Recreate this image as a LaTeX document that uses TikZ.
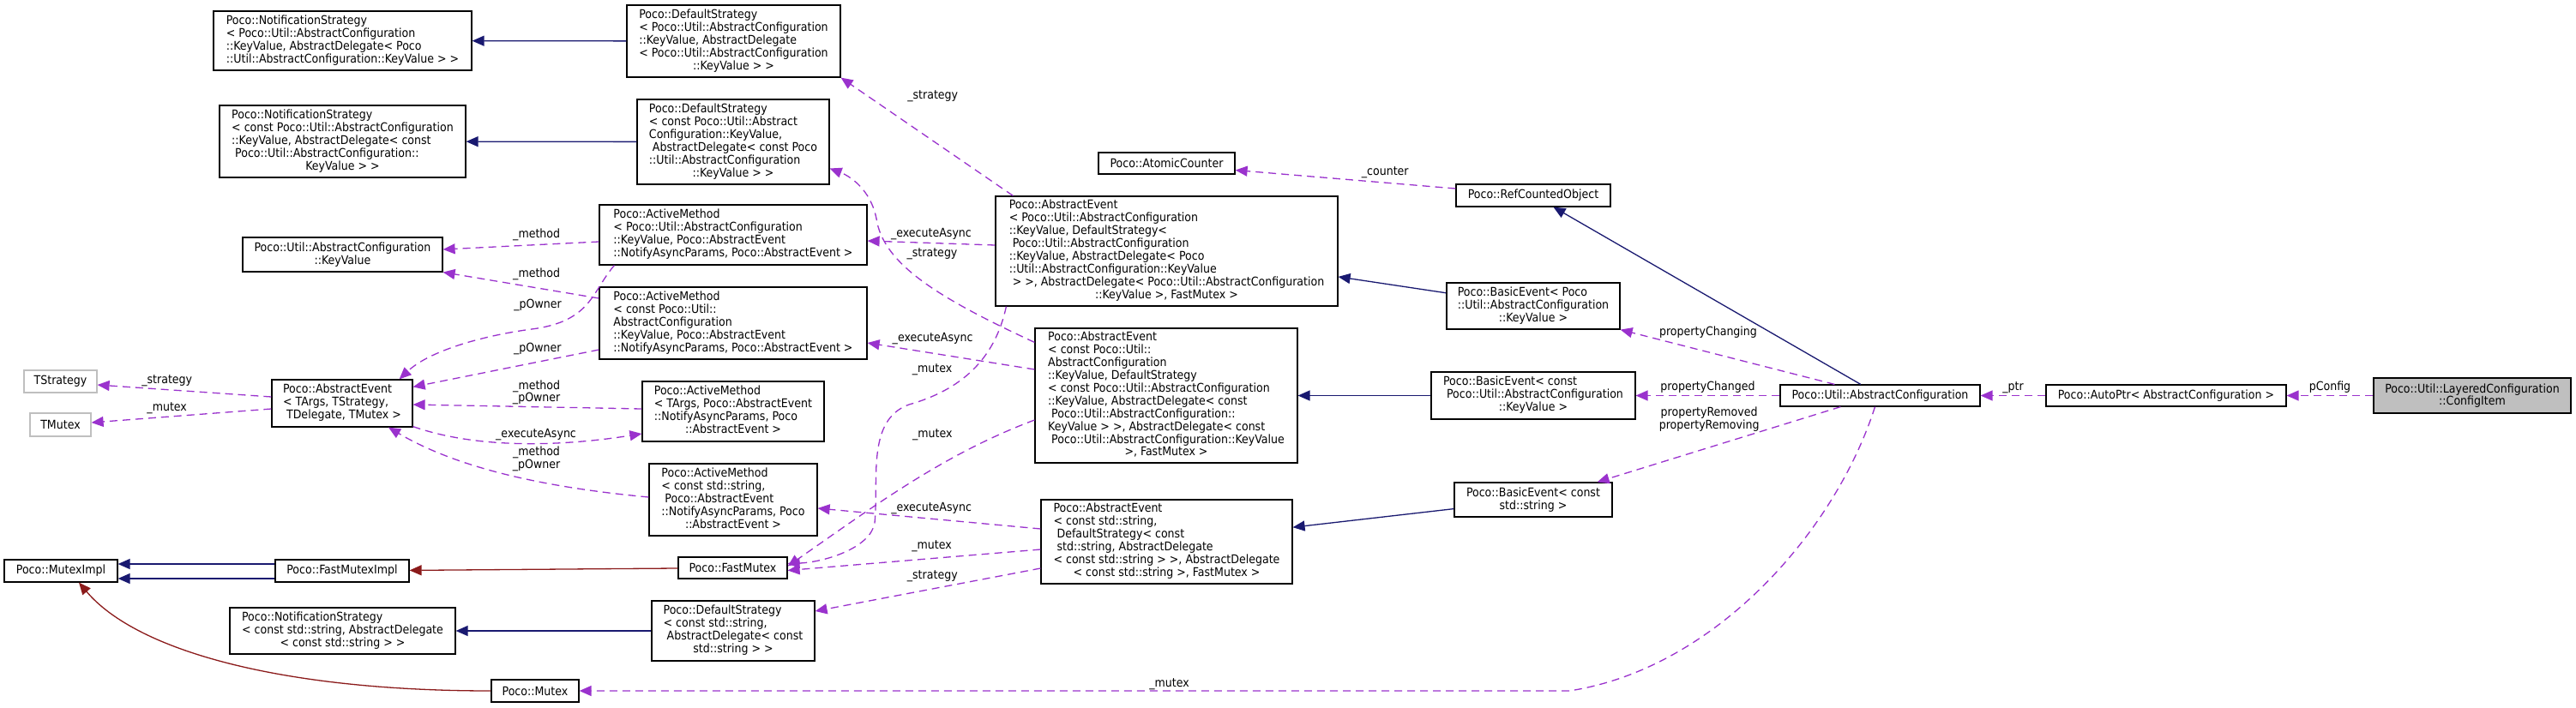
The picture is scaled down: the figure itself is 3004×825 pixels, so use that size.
\documentclass[tikz,border=0pt]{standalone}
\usepackage{fontspec}
\newfontfamily\dxfont{DejaVu Sans Condensed}
\usetikzlibrary{arrows.meta,positioning,calc}
\definecolor{myNavy}{RGB}{25,25,112}
\definecolor{myRed}{RGB}{139,26,26}
\definecolor{myPurple}{RGB}{154,50,205}
\definecolor{myGray}{RGB}{191,191,191}
\newcommand\dxsize{\dxfont\fontsize{14pt}{14.5pt}\selectfont}
\newcommand\lines[1]{\begin{tabular}{@{}l@{}}#1\end{tabular}}
\newcommand\ctr[1]{\multicolumn{1}{@{}c@{}}{#1}}

\begin{document}
\begin{tikzpicture}[x=1pt,y=-1pt,
      mybox/.style={
         draw=black,
         fill=white,
         line width=1.2pt,
         inner sep=0pt,
         font=\dxsize},
      mygraybox/.style={mybox,draw=myGray},
      myinherit/.style={myNavy,line width=1.3pt,-{Triangle[length=14pt,width=12pt]}},
      myowner/.style={myRed,line width=1.3pt,-{Triangle[length=14pt,width=12pt]}},
      myuse/.style={myPurple,line width=1.3pt,dash pattern=on 9pt off 6pt,
         -{Triangle[length=14pt,width=12pt]}},
      mylabel/.style={font=\dxsize,text=black,inner sep=0pt,align=center}
      ]
      \useasboundingbox (0,0) rectangle (3004,825);

      % classes, top to bottom, left to right
      \node[mybox,minimum width=301pt,minimum height=69pt] (nsKV) at (399.5,47.5)
         {\lines{Poco::NotificationStrategy\\< Poco::Util::AbstractConfiguration\\::KeyValue, AbstractDelegate< Poco\\::Util::AbstractConfiguration::KeyValue > >}};
      \node[mybox,minimum width=249pt,minimum height=84pt] (dsKV) at (855.5,48)
         {\lines{Poco::DefaultStrategy\\< Poco::Util::AbstractConfiguration\\::KeyValue, AbstractDelegate\\< Poco::Util::AbstractConfiguration\\\ctr{::KeyValue > >}}};
      \node[mybox,minimum width=287pt,minimum height=84pt] (nscKV) at (399.5,165)
         {\lines{Poco::NotificationStrategy\\< const Poco::Util::AbstractConfiguration\\::KeyValue, AbstractDelegate< const\\\ Poco::Util::AbstractConfiguration::\\\ctr{KeyValue > >}}};
      \node[mybox,minimum width=224pt,minimum height=99pt] (dscKV) at (855,165.5)
         {\lines{Poco::DefaultStrategy\\< const Poco::Util::Abstract\\Configuration::KeyValue,\\\ AbstractDelegate< const Poco\\::Util::AbstractConfiguration\\\ctr{::KeyValue > >}}};
      \node[mybox,minimum width=159pt,minimum height=25pt] (atomic) at (1360.5,190.5) {Poco::AtomicCounter};
      \node[mybox,minimum width=180pt,minimum height=26pt] (refc) at (1788,228) {Poco::RefCountedObject};
      \node[mybox,minimum width=233pt,minimum height=40pt,align=center] (kv) at (399.5,297)
         {Poco::Util::AbstractConfiguration\\::KeyValue};
      \node[mybox,minimum width=312pt,minimum height=70pt] (amKV) at (855,274)
         {\lines{Poco::ActiveMethod\\< Poco::Util::AbstractConfiguration\\::KeyValue, Poco::AbstractEvent\\::NotifyAsyncParams, Poco::AbstractEvent >}};
      \node[mybox,minimum width=399pt,minimum height=128pt] (aeKV) at (1360.5,293)
         {\lines{Poco::AbstractEvent\\< Poco::Util::AbstractConfiguration\\::KeyValue, DefaultStrategy<\\\ Poco::Util::AbstractConfiguration\\::KeyValue, AbstractDelegate< Poco\\::Util::AbstractConfiguration::KeyValue\\\ > >, AbstractDelegate< Poco::Util::AbstractConfiguration\\\ctr{::KeyValue >, FastMutex >}}};
      \node[mybox,minimum width=312pt,minimum height=84pt] (amcKV) at (855,377)
         {\lines{Poco::ActiveMethod\\< const Poco::Util::\\AbstractConfiguration\\::KeyValue, Poco::AbstractEvent\\::NotifyAsyncParams, Poco::AbstractEvent >}};
      \node[mybox,minimum width=202pt,minimum height=54pt] (beKV) at (1788,357)
         {\lines{Poco::BasicEvent< Poco\\::Util::AbstractConfiguration\\\ctr{::KeyValue >}}};
      \node[mygraybox,minimum width=85pt,minimum height=26pt] (tstrat) at (70.5,445) {TStrategy};
      \node[mygraybox,minimum width=71pt,minimum height=27pt] (tmutex) at (70.5,495.5) {TMutex};
      \node[mybox,minimum width=164pt,minimum height=55pt] (aeT) at (399,470.5)
         {\lines{Poco::AbstractEvent\\< TArgs, TStrategy,\\\ctr{\ TDelegate, TMutex >}}};
      \node[mybox,minimum width=212pt,minimum height=70pt] (amT) at (855,480)
         {\lines{Poco::ActiveMethod\\< TArgs, Poco::AbstractEvent\\::NotifyAsyncParams, Poco\\\ctr{::AbstractEvent >}}};
      \node[mybox,minimum width=306pt,minimum height=157pt] (aecKV) at (1360,461.5)
         {\lines{Poco::AbstractEvent\\< const Poco::Util::\\AbstractConfiguration\\::KeyValue, DefaultStrategy\\< const Poco::Util::AbstractConfiguration\\::KeyValue, AbstractDelegate< const\\\ Poco::Util::AbstractConfiguration::\\KeyValue > >, AbstractDelegate< const\\\ Poco::Util::AbstractConfiguration::KeyValue\\\ctr{ >, FastMutex >}}};
      \node[mybox,minimum width=238pt,minimum height=55pt] (becKV) at (1788,461.5)
         {\lines{Poco::BasicEvent< const\\\ Poco::Util::AbstractConfiguration\\\ctr{::KeyValue >}}};
      \node[mybox,minimum width=233pt,minimum height=25pt] (absconf) at (2192.5,461.5) {Poco::Util::AbstractConfiguration};
      \node[mybox,minimum width=280pt,minimum height=25pt] (autoptr) at (2526,461.5) {Poco::AutoPtr< AbstractConfiguration >};
      \node[mybox,fill=myGray,minimum width=230pt,minimum height=41pt,align=center] (configitem) at (2883,461.5)
         {Poco::Util::LayeredConfiguration\\::ConfigItem};
      \node[mybox,minimum width=196pt,minimum height=84pt] (amStr) at (855,583)
         {\lines{Poco::ActiveMethod\\< const std::string,\\\ Poco::AbstractEvent\\::NotifyAsyncParams, Poco\\\ctr{::AbstractEvent >}}};
      \node[mybox,minimum width=184pt,minimum height=40pt,align=center] (beStr) at (1788,583)
         {Poco::BasicEvent< const\\std::string >};
      \node[mybox,minimum width=132pt,minimum height=26pt] (mutexImpl) at (71,666) {Poco::MutexImpl};
      \node[mybox,minimum width=156pt,minimum height=26pt] (fastMutexImpl) at (399,666) {Poco::FastMutexImpl};
      \node[mybox,minimum width=127pt,minimum height=25pt] (fastMutex) at (854.5,662.5) {Poco::FastMutex};
      \node[mybox,minimum width=293pt,minimum height=98pt] (aeStr) at (1360.5,632)
         {\lines{Poco::AbstractEvent\\< const std::string,\\\ DefaultStrategy< const\\\ std::string, AbstractDelegate\\< const std::string > >, AbstractDelegate\\\ctr{< const std::string >, FastMutex >}}};
      \node[mybox,minimum width=263pt,minimum height=54pt] (nsStr) at (399.5,736)
         {\lines{Poco::NotificationStrategy\\< const std::string, AbstractDelegate\\\ctr{< const std::string > >}}};
      \node[mybox,minimum width=190pt,minimum height=70pt] (dsStr) at (855,736)
         {\lines{Poco::DefaultStrategy\\< const std::string,\\\ AbstractDelegate< const\\\ctr{std::string > >}}};
      \node[mybox,minimum width=102pt,minimum height=26pt] (mutex) at (624,806) {Poco::Mutex};

      % inheritance
      \foreach \i/\j in {dsKV/nsKV, dscKV/nscKV, beKV/aeKV, becKV/aecKV,
                         beStr/aeStr, dsStr/nsStr, absconf/refc}
      \draw[myinherit] (\i) -- (\j);
      \draw[myinherit] ($(fastMutexImpl.west)+(0,-8)$) -- ($(mutexImpl.east)+(0,-8)$);
      \draw[myinherit] ($(fastMutexImpl.west)+(0,9)$) -- ($(mutexImpl.east)+(0,9)$);

      % private inheritance
      \draw[myowner] (fastMutex) -- (fastMutexImpl);
      \draw[myowner] (mutex.west) .. controls (330,806) and (160,760) .. ($(mutexImpl.south)+(21,0)$);

      % usage
      \draw[myuse] (configitem) -- node[mylabel,yshift=10pt] {pConfig} (autoptr);
      \draw[myuse] (autoptr) -- node[mylabel,yshift=9pt] {\_ptr} (absconf);
      \draw[myuse] (absconf) -- node[mylabel,yshift=10pt] {propertyChanged} (becKV);
      \draw[myuse] ($(absconf.north west)+(64,0)$) -- node[mylabel,pos=0.59,yshift=23pt] {propertyChanging} (beKV.south east);
      \draw[myuse] ($(absconf.south west)+(71,0)$) -- node[mylabel,pos=0.54,yshift=33pt] {propertyRemoved\\propertyRemoving} ($(beStr.north east)+(-18,0)$);
      \draw[myuse] ($(absconf.south)+(-6,0)$) .. controls (2140,620) and (2000,780) .. (1830,806)
         -- node[mylabel,pos=0.404,yshift=8pt] {\_mutex} (mutex.east);
      \draw[myuse] ($(refc.west)+(0,-8)$) -- node[mylabel,pos=0.32,yshift=12pt] {\_counter} ($(atomic.east)+(0,8)$);

      \draw[myuse] ($(aeKV.north west)+(21,0)$) -- node[mylabel,pos=0.84,xshift=75pt] {\_strategy} (dsKV.south east);
      \draw[myuse] ($(aeKV.west)+(0,-7)$) -- node[mylabel,yshift=10.5pt] {\_executeAsync} ($(amKV.east)+(0,7)$);
      \draw[myuse] ($(aeKV.south west)+(13,0)$) .. controls (1160,420) and (1120,455) .. (1060,472)
         node[mylabel,xshift=27pt,yshift=41pt] {\_mutex}
         .. controls (1010,490) and (1025,560) .. (1020,610)
         .. controls (1015,640) and (960,656) .. ($(fastMutex.east)+(0,-5)$);

      \draw[myuse] ($(aecKV.north west)+(0,17)$) .. controls (1100,350) and (1030,310) .. (1022,255)
         node[mylabel,xshift=65pt,yshift=-41pt] {\_strategy}
         .. controls (1015,220) and (990,205) .. ($(dscKV.east)+(0,31)$);
      \draw[myuse] ($(aecKV.west)+(0,-30.5)$) -- node[mylabel,pos=0.61,yshift=17pt] {\_executeAsync} ($(amcKV.east)+(0,23)$);
      \draw[myuse] ($(aecKV.west)+(0,28.5)$) .. controls (1100,530) and (1020,590) ..
         node[mylabel,pos=0.35,xshift=-15pt,yshift=32pt] {\_mutex} ($(fastMutex.east)+(0,-2)$);

      \draw[myuse] ($(aeStr.west)+(0,-15)$) -- node[mylabel,pos=0.49,yshift=12pt] {\_executeAsync} ($(amStr.east)+(0,10)$);
      \draw[myuse] ($(aeStr.west)+(0,9)$) -- node[mylabel,pos=0.43,yshift=14.5pt] {\_mutex} ($(fastMutex.east)+(0,3)$);
      \draw[myuse] ($(aeStr.west)+(0,31)$) -- node[mylabel,pos=0.48,yshift=15pt] {\_strategy} ($(dsStr.east)+(0,-23)$);

      \draw[myuse] ($(amKV.west)+(0,8)$) -- node[mylabel,pos=0.4,yshift=12pt] {\_method} ($(kv.east)+(0,-6)$);
      \draw[myuse] ($(amcKV.west)+(0,-29)$) -- node[mylabel,pos=0.4,yshift=16pt] {\_method} (kv.south east);
      \draw[myuse] ($(amKV.south west)+(18,0)$) .. controls (690,340) and (690,375) .. (620,384)
         node[mylabel,xshift=7pt,yshift=28pt] {\_pOwner}
         .. controls (560,392) and (500,410) .. ($(aeT.north east)+(-16,0)$);
      \draw[myuse] ($(amcKV.west)+(0,31)$) -- node[mylabel,pos=0.33,yshift=15.5pt] {\_pOwner} ($(aeT.north east)+(0,9)$);
      \draw[myuse] ($(amT.west)+(0,-3)$) -- node[mylabel,pos=0.46,yshift=17pt] {\_method\\\_pOwner} ($(aeT.east)+(0,1.5)$);
      \draw[myuse] ($(aeT.south east)+(0,-1)$) .. controls (560,525) and (660,520) ..
         node[mylabel,pos=0.55,yshift=10pt] {\_executeAsync} ($(amT.west)+(0,26)$);
      \draw[myuse] ($(amStr.west)+(0,-3)$) .. controls (650,570) and (540,550) ..
         node[mylabel,pos=0.45,xshift=12.5pt,yshift=23pt] {\_method\\\_pOwner} ($(aeT.south)+(54,0)$);
      \draw[myuse] ($(aeT.west)+(0,-7.5)$) -- node[mylabel,pos=0.6,yshift=10.5pt] {\_strategy} ($(tstrat.east)+(0,4)$);
      \draw[myuse] ($(aeT.west)+(0,6.5)$) -- node[mylabel,pos=0.58,yshift=10pt] {\_mutex} ($(tmutex.east)+(0,-2.5)$);
\end{tikzpicture}
\end{document}
